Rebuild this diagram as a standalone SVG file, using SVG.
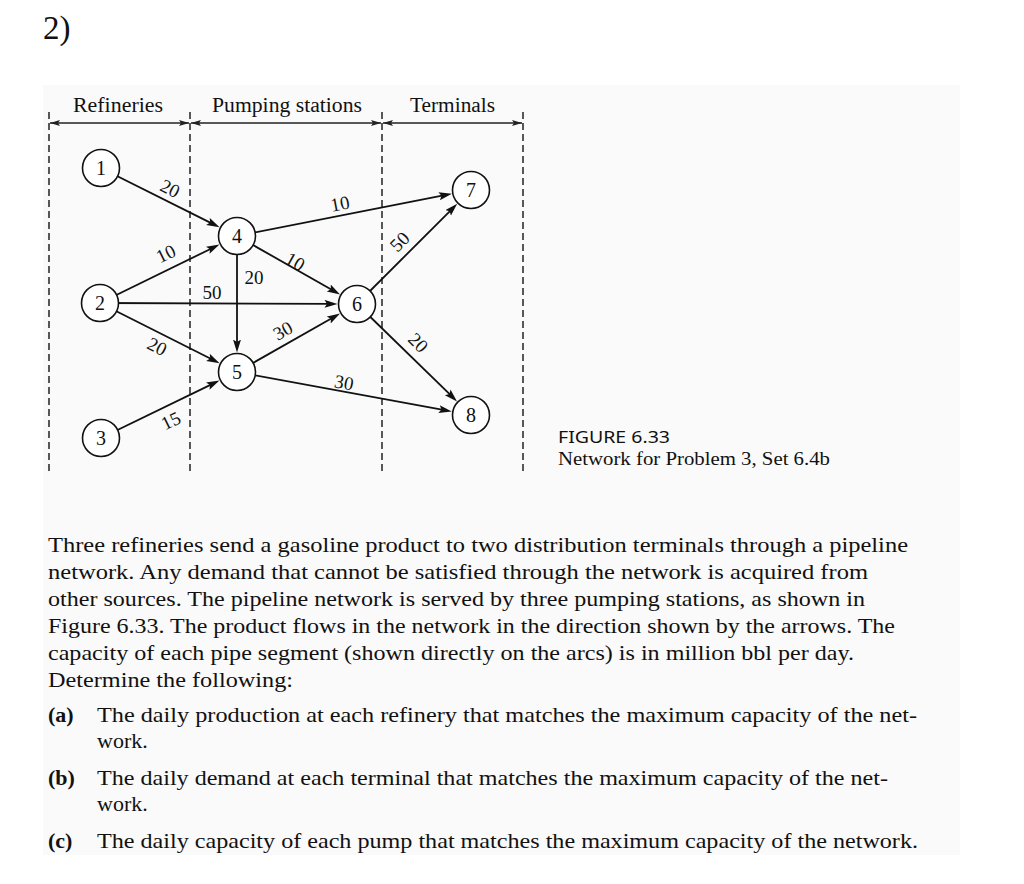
<svg xmlns="http://www.w3.org/2000/svg" width="1024" height="884" viewBox="0 0 1024 884">
<style>
  .serif { font-family: "Liberation Serif", "Times New Roman", serif; fill: #111; }
  .sans { font-family: "Noto Sans", "Open Sans", sans-serif; fill: #111; }
  .dash { stroke: #222; stroke-width: 1.5; stroke-dasharray: 7 4; fill: none; }
  .dim { stroke: #222; stroke-width: 1.3; fill: none; }
  .edge { stroke: #111; stroke-width: 1.8; fill: none; }
  .node circle { fill: #fff; stroke: #111; stroke-width: 1.6; }
  .node text { font-family: "Liberation Serif", "Times New Roman", serif; font-size: 20px; text-anchor: middle; fill: #111; }
  .lbl { font-family: "Liberation Serif", "Times New Roman", serif; font-size: 19px; text-anchor: middle; fill: #111; }
  .para { font-family: "Liberation Serif", "Times New Roman", serif; font-size: 22px; fill: #111; }
  .bold { font-weight: bold; }
</style>
<defs>
  <marker id="arr" markerUnits="userSpaceOnUse" markerWidth="14" markerHeight="10" refX="7" refY="4" orient="auto">
    <path d="M0,0 L13,4 L0,8 L2.5,4 z" fill="#111"/>
  </marker>
  <marker id="dimarr" markerUnits="userSpaceOnUse" markerWidth="12" markerHeight="8" refX="10" refY="3" orient="auto-start-reverse">
    <path d="M0,0 L10,3 L0,6 L2,3 z" fill="#222"/>
  </marker>
</defs>
<rect x="0" y="0" width="1024" height="884" fill="#ffffff"/>
<rect x="43" y="85" width="917" height="770" fill="#fafafa"/>

<text class="serif" x="43" y="39" font-size="33">2)</text>

<g id="header">
  <text class="serif" x="73" y="112" font-size="20" textLength="90" lengthAdjust="spacingAndGlyphs">Refineries</text>
  <text class="serif" x="212" y="112" font-size="20" textLength="150" lengthAdjust="spacingAndGlyphs">Pumping stations</text>
  <text class="serif" x="410" y="112" font-size="20" textLength="85" lengthAdjust="spacingAndGlyphs">Terminals</text>
  <line class="dim" x1="50" y1="123" x2="189" y2="123" marker-start="url(#dimarr)" marker-end="url(#dimarr)"/>
  <line class="dim" x1="191" y1="123" x2="381" y2="123" marker-start="url(#dimarr)" marker-end="url(#dimarr)"/>
  <line class="dim" x1="383" y1="123" x2="522" y2="123" marker-start="url(#dimarr)" marker-end="url(#dimarr)"/>
  <line class="dash" x1="49" y1="112" x2="49" y2="472"/>
  <line class="dash" x1="190" y1="112" x2="190" y2="472"/>
  <line class="dash" x1="382" y1="112" x2="382" y2="472"/>
  <line class="dash" x1="523" y1="112" x2="523" y2="472"/>
</g>

<g id="connectors">
  <line class="edge" x1="101" y1="168" x2="214.19" y2="224.6" marker-end="url(#arr)"/>
  <line class="edge" x1="100" y1="303" x2="214.09" y2="247.2" marker-end="url(#arr)"/>
  <line class="edge" x1="100" y1="303" x2="331.5" y2="303.9" marker-end="url(#arr)"/>
  <line class="edge" x1="100" y1="303" x2="214.23" y2="360.53" marker-end="url(#arr)"/>
  <line class="edge" x1="101" y1="438" x2="214.06" y2="383.13" marker-end="url(#arr)"/>
  <line class="edge" x1="237" y1="236" x2="445.98" y2="194.92" marker-end="url(#arr)"/>
  <line class="edge" x1="237" y1="236" x2="334.81" y2="291.43" marker-end="url(#arr)"/>
  <line class="edge" x1="237" y1="236" x2="237" y2="346.5" marker-end="url(#arr)"/>
  <line class="edge" x1="237" y1="372" x2="334.81" y2="316.57" marker-end="url(#arr)"/>
  <line class="edge" x1="237" y1="372" x2="445.92" y2="410.39" marker-end="url(#arr)"/>
  <line class="edge" x1="357" y1="304" x2="452.97" y2="208.03" marker-end="url(#arr)"/>
  <line class="edge" x1="357" y1="304" x2="452.73" y2="397.21" marker-end="url(#arr)"/>
  <g id="edge-labels">
    <text class="lbl" transform="translate(170,189) rotate(26.6)" x="0" y="6">20</text>
    <text class="lbl" transform="translate(340,204) rotate(-11)" x="0" y="6">10</text>
    <text class="lbl" transform="translate(166,254) rotate(-26)" x="0" y="6">10</text>
    <text class="lbl" transform="translate(295,262) rotate(29.5)" x="0" y="6">10</text>
    <text class="lbl" x="254" y="284">20</text>
    <text class="lbl" x="212" y="299">50</text>
    <text class="lbl" transform="translate(157,347) rotate(26.7)" x="0" y="6">20</text>
    <text class="lbl" transform="translate(283,331) rotate(-29.5)" x="0" y="6">30</text>
    <text class="lbl" transform="translate(344,383) rotate(10)" x="0" y="6">30</text>
    <text class="lbl" transform="translate(171,421) rotate(-26)" x="0" y="6">15</text>
    <text class="lbl" transform="translate(400,242) rotate(-45)" x="0" y="6">50</text>
    <text class="lbl" transform="translate(418,343) rotate(45)" x="0" y="6">20</text>
  </g>
</g>

<g id="node1" class="node"><circle cx="101" cy="168" r="18.5"/><text x="101" y="175">1</text></g>
<g id="node2" class="node"><circle cx="100" cy="303" r="18.5"/><text x="100" y="310">2</text></g>
<g id="node3" class="node"><circle cx="101" cy="438" r="18.5"/><text x="101" y="445">3</text></g>
<g id="node4" class="node"><circle cx="237" cy="236" r="18.5"/><text x="237" y="243">4</text></g>
<g id="node5" class="node"><circle cx="237" cy="372" r="18.5"/><text x="237" y="379">5</text></g>
<g id="node6" class="node"><circle cx="357" cy="304" r="18.5"/><text x="357" y="311">6</text></g>
<g id="node7" class="node"><circle cx="471" cy="190" r="18.5"/><text x="471" y="197">7</text></g>
<g id="node8" class="node"><circle cx="471" cy="415" r="18.5"/><text x="471" y="422">8</text></g>

<g id="caption">
  <text class="sans" x="558" y="443" font-size="16.5" textLength="112" lengthAdjust="spacingAndGlyphs">FIGURE 6.33</text>
  <text class="serif" x="558" y="465" font-size="18" textLength="272" lengthAdjust="spacingAndGlyphs">Network for Problem 3, Set 6.4b</text>
</g>

<g id="problem-text">
  <text class="para" x="48" y="552" textLength="860" lengthAdjust="spacingAndGlyphs">Three refineries send a gasoline product to two distribution terminals through a pipeline</text>
  <text class="para" x="48" y="579" textLength="820" lengthAdjust="spacingAndGlyphs">network. Any demand that cannot be satisfied through the network is acquired from</text>
  <text class="para" x="48" y="606" textLength="817" lengthAdjust="spacingAndGlyphs">other sources. The pipeline network is served by three pumping stations, as shown in</text>
  <text class="para" x="48" y="633" textLength="847" lengthAdjust="spacingAndGlyphs">Figure 6.33. The product flows in the network in the direction shown by the arrows. The</text>
  <text class="para" x="48" y="660" textLength="806" lengthAdjust="spacingAndGlyphs">capacity of each pipe segment (shown directly on the arcs) is in million bbl per day.</text>
  <text class="para" x="48" y="687" textLength="245" lengthAdjust="spacingAndGlyphs">Determine the following:</text>

  <text class="para bold" x="48" y="722">(a)</text>
  <text class="para" x="97" y="722" textLength="820" lengthAdjust="spacingAndGlyphs">The daily production at each refinery that matches the maximum capacity of the net-</text>
  <text class="para" x="97" y="748">work.</text>
  <text class="para bold" x="48" y="785">(b)</text>
  <text class="para" x="97" y="785" textLength="791" lengthAdjust="spacingAndGlyphs">The daily demand at each terminal that matches the maximum capacity of the net-</text>
  <text class="para" x="97" y="811">work.</text>
  <text class="para bold" x="48" y="848">(c)</text>
  <text class="para" x="97" y="848" textLength="821" lengthAdjust="spacingAndGlyphs">The daily capacity of each pump that matches the maximum capacity of the network.</text>
</g>
</svg>
